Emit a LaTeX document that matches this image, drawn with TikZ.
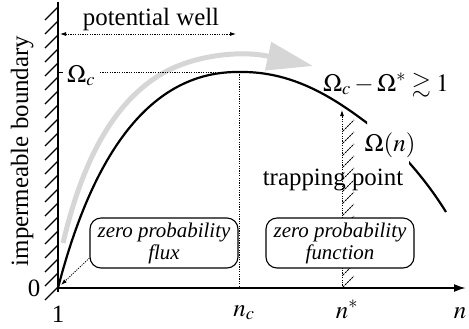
\documentclass[tikz,border=0pt]{standalone}
\usepackage{amssymb}
\usepackage{mathptmx}
\usepackage[no-math]{fontspec}
\setmainfont{Liberation Serif}
\usetikzlibrary{arrows.meta, positioning}

\begin{document}
\begin{tikzpicture}[x=1bp, y=-1bp, >=Latex,
    big/.style={font=\fontsize{25}{28}\selectfont, inner sep=0pt},
    boxed/.style={draw, line width=1.1bp, rounded corners=11bp, fill=white,
      minimum width=148bp, minimum height=50bp, align=center, inner sep=0pt,
      font=\fontsize{21}{22}\selectfont\itshape},
    guide/.style={line width=0.8bp, dash pattern=on 1.2bp off 1.2bp},
    hatch/.style={line width=1.1bp}]
  \useasboundingbox (0,0) rectangle (469,328);
  % Points
  \coordinate (O) at (58,288);
  \coordinate (ytop) at (58,2);
  \coordinate (ybot) at (58,292);
  \coordinate (xend) at (466,288);
  \coordinate (peak) at (239,72);
  \coordinate (ncfoot) at (239,288);
  \coordinate (omcstart) at (100,72);
  \coordinate (nstar) at (342,288);
  \coordinate (nstartop) at (342,110);
  \coordinate (wellL) at (60,34);
  \coordinate (wellR) at (236,34);
  % Gray flow arrow
  \draw[gray!32, line width=5bp, -{Triangle[length=46bp,width=28bp]}]
    (63,243) .. controls (78,180) and (105,105) .. (165,72)
    .. controls (195,55.5) and (240,50) .. (313,66);
  % Impermeable wall
  \foreach \y in {20,34,...,300} {\draw[hatch] (45,\y) -- (58,\y-13);}
  \draw[line width=1.5bp] (ybot) -- (ytop);
  \draw[line width=1bp] (58,72) -- (63,72);
  % x axis
  \draw[line width=2bp, -{Latex[length=12bp,width=8bp]}] (O) -- (xend);
  % Guides
  \draw[guide, {Latex[length=6bp,width=4bp]}-{Latex[length=6bp,width=4bp]}] (wellL) -- (wellR);
  \draw[guide] (omcstart) -- (peak);
  \draw[guide] (peak) -- (ncfoot);
  \foreach \y in {131,143,...,287} {\draw[line width=0.8bp, dash pattern=on 2bp off 1bp] (343,\y) -- (354,\y-11);}
  \draw[guide, -{Latex[length=6bp,width=4bp]}] (nstar) -- (nstartop);
  % Omega(n)
  \begin{scope}
    \clip (0,0) rectangle (367,328);
    \draw[line width=2.2bp] (O) .. controls (95,145) and (155,71) .. (peak)
      .. controls (290,71) and (330,95) .. (367,123)
      .. controls (395,144) and (425,178) .. (446,212);
  \end{scope}
  \begin{scope}
    \clip (409,0) rectangle (469,328);
    \draw[line width=2.2bp] (O) .. controls (95,145) and (155,71) .. (peak)
      .. controls (290,71) and (330,95) .. (367,123)
      .. controls (395,144) and (425,178) .. (446,212);
  \end{scope}
  % Boxes
  \node[boxed] (fluxbox) at (164,243) {zero probability\\flux};
  \node[boxed] (funcbox) at (340,243) {zero probability\\function};
  \draw[guide, -{Latex[length=6bp,width=4bp]}] ([yshift=-15bp]fluxbox.west) -- (61,285);
  % Labels
  \node[big, anchor=base] (well) at (151,25) {potential well};
  \node[big, anchor=base, rotate=90] (wall) at (28,151) {impermeable boundary};
  \node[big] (zero) at (34,288) {0};
  \node[big] (one) at (58,314) {1};
  \node[big, anchor=base] (nc) at (244,316) {$n_c$};
  \node[big, anchor=base] (ns) at (347,318) {$n^*$};
  \node[big, anchor=base] (nn) at (460,318) {$n$};
  \node[big, anchor=base west] (omc) at (67,82) {$\Omega_c$};
  \node[big, anchor=base] (cond) at (386,91) {$\Omega_c-\Omega^*\gtrsim 1$};
  \node[big, anchor=base] (omn) at (390,151) {$\Omega(n)$};
  \node[big, anchor=base] (trap) at (333,185) {trapping point};
\end{tikzpicture}
\end{document}
